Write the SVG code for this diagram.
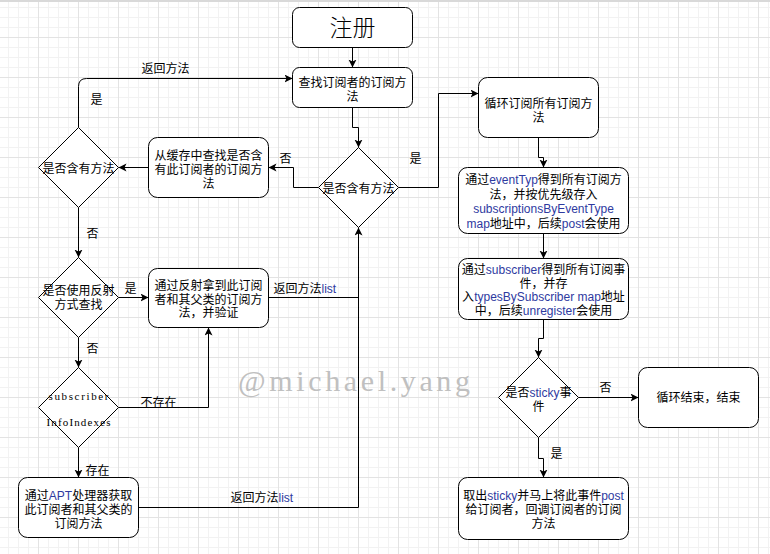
<svg xmlns="http://www.w3.org/2000/svg" width="770" height="554" viewBox="0 0 770 554">
<style>
.box{fill:#fff;stroke:#000;stroke-width:1}
.dia{fill:#fff;stroke:#000;stroke-width:1}
.t{font-family:"Liberation Sans","Noto Sans CJK SC",sans-serif;font-size:12px;fill:#000;text-anchor:middle}
.tl{font-family:"Liberation Sans","Noto Sans CJK SC",sans-serif;font-size:12px;fill:#000}
.en{fill:#2e3a9f}
.mono{font-family:"Liberation Serif",serif;font-size:11px;fill:#000;text-anchor:middle}
.edge{fill:none;stroke:#000;stroke-width:1}
</style>
<defs>
<pattern id="grid" width="40" height="40" patternUnits="userSpaceOnUse" x="-2" y="-3">
<path d="M10.5,0V40M20.5,0V40M30.5,0V40M0,10.5H40M0,20.5H40M0,30.5H40" stroke="#f2f2f2" stroke-width="1" fill="none"/>
<path d="M0.5,0V40M0,0.5H40" stroke="#e3e3e3" stroke-width="1" fill="none"/>
</pattern>
<marker id="arr" markerUnits="userSpaceOnUse" markerWidth="10" markerHeight="10" refX="8" refY="4" orient="auto">
<path d="M0,0 L8,4 L0,8 L2,4 Z" fill="#000"/>
</marker>
</defs>
<rect width="770" height="554" fill="#fff"/>
<rect width="770" height="554" fill="url(#grid)"/>
<rect width="770" height="2" fill="#d9d9d9"/>
<text x="238" y="391" font-family="Liberation Serif,serif" font-size="30" fill="#c0c0c0" textLength="232" lengthAdjust="spacing">@michael.yang</text>
<g transform="translate(0.5,0.5)">
<g id="connectors">
<path class="edge" marker-end="url(#arr)" d="M352,47V67"/>
<path class="edge" marker-end="url(#arr)" d="M352,107V127H358V147"/>
<path class="edge" marker-end="url(#arr)" d="M398,187H438V93H478"/>
<text class="t" x="415" y="162">是</text>
<path class="edge" marker-end="url(#arr)" d="M538,137V157H543V167"/>
<path class="edge" marker-end="url(#arr)" d="M543,233V258"/>
<path class="edge" marker-end="url(#arr)" d="M543,319V338H538V357"/>
<path class="edge" marker-end="url(#arr)" d="M578,397H638"/>
<text class="t" x="605" y="391">否</text>
<path class="edge" marker-end="url(#arr)" d="M538,437V458H543V477"/>
<text class="t" x="556" y="457">是</text>
<path class="edge" marker-end="url(#arr)" d="M318,187H293V167H268"/>
<text class="t" x="285" y="162">否</text>
<path class="edge" marker-end="url(#arr)" d="M148,167H118"/>
<path class="edge" marker-end="url(#arr)" d="M78,127V86Q78,78 86,78H292"/>
<text class="t" x="165" y="72">返回方法</text>
<text class="t" x="96" y="103">是</text>
<path class="edge" marker-end="url(#arr)" d="M78,207V257"/>
<text class="t" x="92" y="237">否</text>
<path class="edge" marker-end="url(#arr)" d="M118,297H148"/>
<text class="t" x="130" y="292">是</text>
<path class="edge" d="M268,297H358"/>
<text class="tl" x="273" y="292">返回方法<tspan class="en">list</tspan></text>
<path class="edge" marker-end="url(#arr)" d="M78,337V367"/>
<text class="t" x="92" y="352">否</text>
<path class="edge" marker-end="url(#arr)" d="M118,407H208V327"/>
<text class="t" x="158" y="406">不存在</text>
<path class="edge" marker-end="url(#arr)" d="M78,447V477"/>
<text class="t" x="97" y="474">存在</text>
<path class="edge" marker-end="url(#arr)" d="M138,507H358V227"/>
<text class="tl" x="230" y="501">返回方法<tspan class="en">list</tspan></text>
</g>
<g id="register">
<rect class="box" x="292" y="7" width="120" height="40" rx="7"/>
<text class="t" x="352" y="35" style="font-size:23px;font-weight:300">注册</text>
</g>
<g id="findMethods">
<rect class="box" x="292" y="67" width="120" height="40" rx="7"/>
<text class="t" x="352" y="86">查找订阅者的订阅方</text>
<text class="t" x="352" y="100">法</text>
</g>
<g id="hasMethod1">
<polygon class="dia" points="358,147 398,187 358,227 318,187"/>
<text class="t" x="358" y="192">是否含有方法</text>
</g>
<g id="loopSubscribe">
<rect class="box" x="478" y="77" width="120" height="60" rx="9"/>
<text class="t" x="538" y="107">循环订阅所有订阅方</text>
<text class="t" x="538" y="121">法</text>
</g>
<g id="eventType">
<rect class="box" x="458" y="167" width="170" height="66" rx="9"/>
<text class="t" x="543" y="183">通过<tspan class="en">eventTyp</tspan>得到所有订阅方</text>
<text class="t" x="543" y="198">法，并按优先级存入</text>
<text class="t" x="543" y="212"><tspan class="en">subscriptionsByEventType</tspan></text>
<text class="t" x="543" y="227"><tspan class="en">map</tspan>地址中，后续<tspan class="en">post</tspan>会使用</text>
</g>
<g id="bySubscriber">
<rect class="box" x="458" y="258" width="170" height="61" rx="9"/>
<text class="t" x="543" y="273">通过<tspan class="en">subscriber</tspan>得到所有订阅事</text>
<text class="t" x="543" y="287">件，并存</text>
<text class="t" x="543" y="300">入<tspan class="en">typesBySubscriber map</tspan>地址</text>
<text class="t" x="543" y="314">中，后续<tspan class="en">unregister</tspan>会使用</text>
</g>
<g id="isSticky">
<polygon class="dia" points="538,357 578,397 538,437 498,397"/>
<text class="t" x="538" y="396">是否<tspan class="en">sticky</tspan>事</text>
<text class="t" x="538" y="410">件</text>
</g>
<g id="loopEnd">
<rect class="box" x="638" y="367" width="120" height="60" rx="9"/>
<text class="t" x="698" y="401">循环结束，结束</text>
</g>
<g id="postSticky">
<rect class="box" x="458" y="477" width="170" height="62" rx="9"/>
<text class="t" x="543" y="499">取出<tspan class="en">sticky</tspan>并马上将此事件<tspan class="en">post</tspan></text>
<text class="t" x="543" y="513">给订阅者，回调订阅者的订阅</text>
<text class="t" x="543" y="527">方法</text>
</g>
<g id="fromCache">
<rect class="box" x="148" y="137" width="120" height="60" rx="9"/>
<text class="t" x="208" y="159">从缓存中查找是否含</text>
<text class="t" x="208" y="173">有此订阅者的订阅方</text>
<text class="t" x="208" y="187">法</text>
</g>
<g id="hasMethod2">
<polygon class="dia" points="78,127 118,167 78,207 38,167"/>
<text class="t" x="78" y="172">是否含有方法</text>
</g>
<g id="useReflection">
<polygon class="dia" points="78,257 118,297 78,337 38,297"/>
<text class="t" x="78" y="294">是否使用反射</text>
<text class="t" x="78" y="308">方式查找</text>
</g>
<g id="reflection">
<rect class="box" x="148" y="268" width="120" height="59" rx="9"/>
<text class="t" x="208" y="289">通过反射拿到此订阅</text>
<text class="t" x="208" y="303">者和其父类的订阅方</text>
<text class="t" x="208" y="316">法，并验证</text>
</g>
<g id="infoIndexes">
<polygon class="dia" points="78,367 118,407 78,447 38,407"/>
<text class="mono" x="78" y="399" textLength="60" lengthAdjust="spacing">subscriber</text>
<text class="mono" x="78" y="425" textLength="64" lengthAdjust="spacing">InfoIndexes</text>
</g>
<g id="apt">
<rect class="box" x="18" y="477" width="120" height="60" rx="9"/>
<text class="t" x="78" y="499">通过<tspan class="en">APT</tspan>处理器获取</text>
<text class="t" x="78" y="513">此订阅者和其父类的</text>
<text class="t" x="78" y="527">订阅方法</text>
</g>
</g>
</svg>
